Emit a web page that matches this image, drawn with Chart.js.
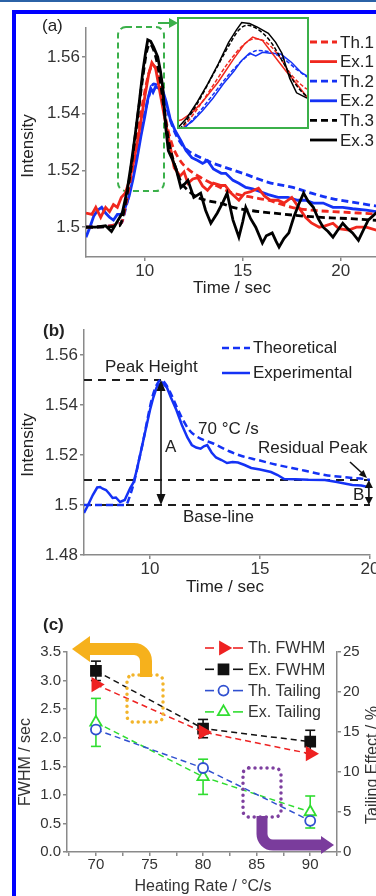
<!DOCTYPE html>
<html>
<head>
<meta charset="utf-8">
<script src="https://cdn.jsdelivr.net/npm/chart.js@4.4.1/dist/chart.umd.min.js"></script>
<style>
html,body{margin:0;padding:0;background:#fff;}
body{width:376px;height:896px;overflow:hidden;position:relative;}
canvas.c{position:absolute;display:block;}
#topline{position:absolute;left:0;top:0;width:376px;height:2px;background:#2b62a6;z-index:5;}
#frame{position:absolute;left:12px;top:10px;width:600px;height:1000px;border-left:4px solid #0000ff;border-top:4px solid #0000ff;pointer-events:none;z-index:10;}
#insetBox{position:absolute;left:177px;top:17px;width:128px;height:108px;border:2px solid #3bb04a;background:#fff;z-index:3;}
</style>
</head>
<body>
<div id="topline"></div>
<canvas id="chartA" class="c" width="400" height="300" style="left:0;top:0;"></canvas>
<div id="insetBox"><canvas id="chartInset" width="128" height="108" style="display:block"></canvas></div>
<canvas id="chartB" class="c" width="400" height="300" style="left:0;top:300px;"></canvas>
<canvas id="chartC" class="c" width="400" height="296" style="left:0;top:600px;"></canvas>
<div id="frame"></div>
<script>
// ================= DATA =================
// Panel (a): time (s) / intensity pairs
const timeTicksA = [10, 15, 20];
const intensityTicksA = [1.5, 1.52, 1.54, 1.56];
const th1Points = [[7,1.5],[8.8,1.5015],[9.0,1.507],[9.3,1.518],[9.6,1.531],[9.9,1.544],[10.2,1.554],[10.4,1.557],[10.6,1.5555],[10.85,1.548],[11.1,1.537],[11.4,1.529],[11.8,1.5235],[12.2,1.5205],[12.85,1.5175],[13.7,1.5145],[14.5,1.512],[15.5,1.5105],[16.3,1.5095],[17.5,1.507],[18.5,1.506],[19.6,1.5055],[20.9,1.505],[22.2,1.5045]];
const ex1Points = [[7.0,1.505],[7.3,1.5045],[7.5,1.507],[7.75,1.5035],[8.0,1.507],[8.2,1.5055],[8.4,1.508],[8.6,1.507],[8.8,1.5105],[9.0,1.512],[9.2,1.516],[9.4,1.522],[9.7,1.533],[10.0,1.546],[10.2,1.554],[10.36,1.558],[10.55,1.556],[10.8,1.5465],[11.0,1.539],[11.2,1.532],[11.5,1.521],[11.8,1.518],[12.0,1.5195],[12.2,1.5155],[12.45,1.517],[12.7,1.5175],[12.95,1.5145],[13.2,1.513],[13.5,1.5155],[13.9,1.5147],[14.1,1.5147],[14.4,1.512],[14.8,1.5095],[15.1,1.512],[15.4,1.5125],[15.8,1.5137],[16.1,1.511],[16.4,1.5095],[16.8,1.5095],[17.1,1.5085],[17.5,1.5105],[17.85,1.507],[18.2,1.5035],[18.5,1.5015],[18.9,1.5],[19.2,1.5005],[19.6,1.5014],[19.9,1.4995],[20.4,1.499],[20.8,1.5],[21.3,1.5],[21.8,1.499],[22.2,1.4995]];
const th2Points = [[7,1.5],[8.8,1.5015],[9.0,1.506],[9.3,1.515],[9.6,1.526],[9.9,1.537],[10.2,1.546],[10.45,1.5505],[10.7,1.5495],[10.95,1.546],[11.2,1.54],[11.5,1.534],[11.85,1.5295],[12.2,1.527],[12.85,1.5245],[13.5,1.5225],[14.13,1.521],[15.0,1.519],[16.3,1.5158],[17.55,1.514],[18.5,1.512],[19.6,1.51],[20.9,1.5085],[22.2,1.507]];
const ex2Points = [[7.0,1.4965],[7.2,1.5],[7.4,1.504],[7.6,1.506],[7.8,1.507],[8.0,1.505],[8.2,1.5035],[8.4,1.5025],[8.6,1.5045],[8.8,1.5045],[9.0,1.507],[9.2,1.511],[9.4,1.517],[9.6,1.524],[9.8,1.532],[10.0,1.539],[10.15,1.545],[10.3,1.549],[10.42,1.5475],[10.55,1.5495],[10.7,1.549],[10.9,1.5485],[11.1,1.544],[11.3,1.538],[11.55,1.534],[11.84,1.5305],[12.1,1.527],[12.4,1.5245],[12.7,1.5235],[12.95,1.5225],[13.2,1.5235],[13.5,1.5205],[13.9,1.519],[14.13,1.519],[14.5,1.5165],[14.8,1.5155],[15.15,1.514],[15.5,1.5135],[15.9,1.5125],[16.3,1.5115],[16.8,1.5105],[17.3,1.5105],[17.8,1.5095],[18.2,1.5095],[18.6,1.5085],[19.1,1.5085],[19.6,1.507],[20.1,1.507],[20.6,1.5065],[21.3,1.506],[21.8,1.5055],[22.2,1.505]];
const th3Points = [[7,1.5],[8.7,1.5005],[9.0,1.508],[9.3,1.521],[9.6,1.537],[9.9,1.553],[10.1,1.562],[10.25,1.5645],[10.45,1.5625],[10.7,1.5555],[10.95,1.5435],[11.2,1.531],[11.5,1.5225],[11.85,1.516],[12.2,1.513],[12.7,1.5105],[13.3,1.5092],[13.9,1.5084],[14.5,1.507],[15.5,1.5058],[16.5,1.505],[17.5,1.5043],[18.5,1.5037],[19.5,1.5033],[20.5,1.503],[21.6,1.5025],[22.2,1.5023]];
const ex3Points = [[7.0,1.5],[7.5,1.5],[8.0,1.5005],[8.3,1.4985],[8.6,1.502],[8.85,1.505],[9.1,1.513],[9.3,1.522],[9.5,1.532],[9.7,1.543],[9.9,1.555],[10.05,1.562],[10.15,1.566],[10.3,1.5655],[10.45,1.5635],[10.66,1.56],[10.8,1.555],[10.92,1.549],[11.07,1.535],[11.2,1.527],[11.4,1.524],[11.6,1.5205],[11.84,1.514],[12.0,1.515],[12.2,1.5165],[12.5,1.5105],[12.85,1.512],[13.1,1.506],[13.37,1.5014],[13.7,1.505],[14.0,1.509],[14.2,1.512],[14.5,1.5025],[14.8,1.4965],[15.0,1.502],[15.15,1.507],[15.4,1.503],[15.66,1.5],[16.0,1.4944],[16.2,1.497],[16.5,1.498],[16.7,1.495],[16.85,1.493],[17.1,1.496],[17.35,1.498],[17.6,1.5035],[17.85,1.508],[18.1,1.512],[18.35,1.509],[18.6,1.507],[18.85,1.503],[19.1,1.5],[19.35,1.4985],[19.6,1.4965],[19.85,1.499],[20.1,1.5014],[20.35,1.4995],[20.6,1.498],[20.9,1.4954],[21.15,1.499],[21.4,1.5025],[21.8,1.505],[22.2,1.506]];

// Panel (b)
const timeTicksB = [10, 15, 20];
const intensityTicksB = [1.48, 1.5, 1.52, 1.54, 1.56];
const theoreticalB = [[7.0,1.5],[8.9,1.5],[9.1,1.504],[9.3,1.51],[9.5,1.518],[9.7,1.526],[9.9,1.535],[10.1,1.543],[10.3,1.548],[10.5,1.55],[10.7,1.5485],[10.95,1.5445],[11.2,1.5395],[11.5,1.534],[11.8,1.5298],[12.2,1.527],[12.9,1.5245],[13.6,1.5215],[14.2,1.5195],[14.9,1.518],[15.7,1.5162],[16.45,1.5148],[17.2,1.5134],[17.95,1.512],[19.0,1.511],[19.9,1.5102],[20.0,1.51]];
const experimentalB = [[7.0,1.4968],[7.14,1.4992],[7.4,1.504],[7.6,1.507],[7.73,1.5072],[7.85,1.5065],[8.0,1.506],[8.15,1.5045],[8.3,1.5028],[8.45,1.503],[8.64,1.5012],[8.85,1.502],[9.1,1.5068],[9.25,1.509],[9.4,1.514],[9.55,1.52],[9.7,1.526],[9.85,1.532],[10.0,1.538],[10.15,1.543],[10.3,1.547],[10.45,1.5485],[10.55,1.549],[10.65,1.548],[10.77,1.547],[10.95,1.543],[11.2,1.538],[11.45,1.532],[11.7,1.527],[11.9,1.524],[12.1,1.523],[12.3,1.5225],[12.45,1.5235],[12.6,1.524],[12.8,1.521],[13.0,1.519],[13.25,1.518],[13.5,1.5168],[13.75,1.5172],[14.0,1.517],[14.3,1.516],[14.6,1.5148],[15.0,1.5142],[15.5,1.5132],[15.8,1.512],[16.1,1.5104],[16.6,1.5103],[17.2,1.5101],[17.95,1.51],[18.5,1.5092],[18.9,1.5085],[19.2,1.508],[19.6,1.5078],[19.9,1.5072],[20.0,1.5075]];
const peakLevelB = 1.55, residualLevelB = 1.51, baseLevelB = 1.5;
const peakTimeB = 10.5, residualTimeB = 19.95, endTimeB = 20;

// Panel (c)
const heatingRates = [70, 80, 90];
const rateTicksC = [70, 75, 80, 85, 90];
const rateMinorTicksC = [67.5, 72.5, 77.5, 82.5, 87.5, 92.5];
const fwhmTicksC = [0, 0.5, 1.0, 1.5, 2.0, 2.5, 3.0, 3.5];
const tailTicksC = [0, 5, 10, 15, 20, 25];
const tailMinorTicksC = [2.5, 7.5, 12.5, 17.5, 22.5];
const thFwhm = [2.93, 2.10, 1.72];
const exFwhm = [3.17, 2.16, 1.93];
const exFwhmErr = [0.17, 0.16, 0.2];
const thTail = [15.3, 10.5, 3.9];
const exTail = [16.2, 9.4, 5.0];
const exTailErr = [3.0, 2.2, 2.0];

// ================= STYLE / HELPERS =================
const FONT = '"Liberation Sans", Arial, Helvetica, sans-serif';
const TICK = '#333', TXT = '#222', AXIS = '#8a8a8a';
const RED = '#f0281e', BLUE = '#1432f5', BLACK = '#000000', GREEN = '#3bb04a';
const RED_C = '#ee2222', BLACK_C = '#111111', BLUE_C = '#3050d0', GREEN_C = '#30dd30';

function pts(a){ return a.map(p => ({x:p[0], y:p[1]})); }
function txt(ctx, s, x, y, o){
  o = o || {};
  ctx.save();
  ctx.font = (o.bold ? 'bold ' : '') + (o.size || 17) + 'px ' + FONT;
  ctx.fillStyle = o.color || TXT;
  ctx.textAlign = o.align || 'left';
  ctx.textBaseline = 'middle';
  if (o.rot) { ctx.translate(x, y); ctx.rotate(o.rot); ctx.fillText(s, 0, 0); }
  else ctx.fillText(s, x, y);
  ctx.restore();
}
function seg(ctx, x1, y1, x2, y2, color, lw, dash){
  ctx.save(); ctx.beginPath(); ctx.strokeStyle = color; ctx.lineWidth = lw;
  ctx.setLineDash(dash || []); ctx.moveTo(x1, y1); ctx.lineTo(x2, y2); ctx.stroke(); ctx.restore();
}
function head(ctx, x, y, ang, len, wid, color){
  ctx.save(); ctx.translate(x, y); ctx.rotate(ang); ctx.beginPath();
  ctx.moveTo(0, 0); ctx.lineTo(-len, -wid/2); ctx.lineTo(-len, wid/2); ctx.closePath();
  ctx.fillStyle = color; ctx.fill(); ctx.restore();
}
function rrPath(ctx, x, y, w, h, r){
  ctx.beginPath(); ctx.moveTo(x + r, y); ctx.lineTo(x + w - r, y); ctx.arcTo(x + w, y, x + w, y + r, r);
  ctx.lineTo(x + w, y + h - r); ctx.arcTo(x + w, y + h, x + w - r, y + h, r);
  ctx.lineTo(x + r, y + h); ctx.arcTo(x, y + h, x, y + h - r, r);
  ctx.lineTo(x, y + r); ctx.arcTo(x, y, x + r, y, r); ctx.closePath();
}
function marker(ctx, kind, x, y, r, stroke, fill, lw){
  ctx.save(); ctx.setLineDash([]); ctx.beginPath();
  if (kind === 'triR') {
    for (let k = 0; k < 3; k++) { const a = Math.PI/2 + k*2*Math.PI/3; const px = x + Math.sin(a)*r, py = y - Math.cos(a)*r; k ? ctx.lineTo(px, py) : ctx.moveTo(px, py); }
    ctx.closePath();
  } else if (kind === 'tri') {
    for (let k = 0; k < 3; k++) { const a = k*2*Math.PI/3; const px = x + Math.sin(a)*r, py = y - Math.cos(a)*r; k ? ctx.lineTo(px, py) : ctx.moveTo(px, py); }
    ctx.closePath();
  } else if (kind === 'rect') {
    const s = r * Math.SQRT1_2; ctx.rect(x - s, y - s, 2*s, 2*s);
  } else { ctx.arc(x, y, r, 0, Math.PI*2); }
  if (fill) { ctx.fillStyle = fill; ctx.fill(); }
  ctx.lineWidth = lw; ctx.strokeStyle = stroke; ctx.stroke(); ctx.restore();
}
function gridOpt(){ return { display:true, drawOnChartArea:false, drawTicks:true, tickLength:4, color:AXIS, lineWidth:1.5 }; }
function borderOpt(){ return { display:true, color:AXIS, width:1.5 }; }
function setTicks(arr){ return s => { s.ticks = arr.map(v => ({value:v})); }; }

// ================= PANEL (a) =================
const seriesA = [
  {label:'Th.1', points:th1Points, color:RED,   dashed:true,  order:3},
  {label:'Ex.1', points:ex1Points, color:RED,   dashed:false, order:2},
  {label:'Th.2', points:th2Points, color:BLUE,  dashed:true,  order:5},
  {label:'Ex.2', points:ex2Points, color:BLUE,  dashed:false, order:4},
  {label:'Th.3', points:th3Points, color:BLACK, dashed:true,  order:1},
  {label:'Ex.3', points:ex3Points, color:BLACK, dashed:false, order:0}
];
function dsA(lw, dash){
  return seriesA.map(s => ({
    label:s.label, data:pts(s.points), borderColor:s.color, backgroundColor:s.color,
    borderWidth:lw, borderDash:s.dashed ? dash : [], pointRadius:0, fill:false, order:s.order,
    cubicInterpolationMode: s.dashed ? 'monotone' : 'default', tension:0
  }));
}
const decoA = {
  id:'decoA',
  beforeDatasetsDraw(chart){
    const ctx = chart.ctx;
    ctx.save(); ctx.strokeStyle = GREEN; ctx.lineWidth = 2; ctx.setLineDash([6,4]);
    rrPath(ctx, 118, 27, 46, 164, 8); ctx.stroke(); ctx.restore();
  },
  afterDraw(chart){
    const ctx = chart.ctx;
    seg(ctx, 158, 23, 170, 23, GREEN, 2);
    head(ctx, 178, 23, 0, 9, 10, GREEN);
    seriesA.forEach((s, i) => {
      const y = 42 + i * 19.6;
      seg(ctx, 310, y, 337, y, s.color, 2.8, s.dashed ? [7,4] : []);
      txt(ctx, s.label, 340, y + 1, {size:17});
    });
    txt(ctx, '(a)', 42, 26, {size:17});
    txt(ctx, 'Intensity', 28, 146, {size:17, align:'center', rot:-Math.PI/2});
    txt(ctx, 'Time / sec', 232, 288, {size:17, align:'center'});
  }
};
new Chart(document.getElementById('chartA'), {
  type:'line',
  data:{datasets: dsA(2.8, [7,4])},
  options:{
    responsive:false, animation:false, events:[],
    layout:{padding:{left:0, right:20, top:28, bottom:0}},
    plugins:{legend:{display:false}, tooltip:{enabled:false}},
    scales:{
      x:{type:'linear', min:7, max:22, afterBuildTicks:setTicks(timeTicksA), afterFit:s=>{s.height=43;},
         ticks:{font:{family:FONT,size:17}, color:TICK, padding:0, maxRotation:0, autoSkip:false},
         grid:gridOpt(), border:borderOpt()},
      y:{type:'linear', min:1.4895, max:1.5702, afterBuildTicks:setTicks(intensityTicksA), afterFit:s=>{s.width=86;},
         ticks:{font:{family:FONT,size:17}, color:TICK, padding:2, callback:v=>String(v)},
         grid:gridOpt(), border:borderOpt()}
    }
  },
  plugins:[decoA]
});

// inset (zoom of the peak region)
new Chart(document.getElementById('chartInset'), {
  type:'line',
  data:{datasets: dsA(1.5, [4,2])},
  options:{
    responsive:false, animation:false, events:[],
    layout:{padding:0},
    plugins:{legend:{display:false}, tooltip:{enabled:false}},
    scales:{ x:{type:'linear', display:false, min:8.95, max:11.4}, y:{type:'linear', display:false, min:1.508, max:1.568} }
  }
});

// ================= PANEL (b) =================
const decoB = {
  id:'decoB',
  beforeDatasetsDraw(chart){
    const ctx = chart.ctx, xs = chart.scales.x, ys = chart.scales.y;
    const L = chart.chartArea.left;
    const dash = [8,6], c = '#1e1e1e';
    seg(ctx, L, ys.getPixelForValue(peakLevelB), xs.getPixelForValue(peakTimeB), ys.getPixelForValue(peakLevelB), c, 2, dash);
    seg(ctx, L, ys.getPixelForValue(residualLevelB), xs.getPixelForValue(endTimeB), ys.getPixelForValue(residualLevelB), c, 2, dash);
    seg(ctx, L, ys.getPixelForValue(baseLevelB), xs.getPixelForValue(endTimeB), ys.getPixelForValue(baseLevelB), c, 2, dash);
  },
  afterDraw(chart){
    const ctx = chart.ctx, xs = chart.scales.x, ys = chart.scales.y;
    const ax = xs.getPixelForValue(peakTimeB), aTop = ys.getPixelForValue(peakLevelB), aBot = ys.getPixelForValue(baseLevelB);
    seg(ctx, ax, aTop + 6, ax, aBot - 6, '#111', 1.6);
    head(ctx, ax, aTop, -Math.PI/2, 11, 9, '#111');
    head(ctx, ax, aBot, Math.PI/2, 11, 9, '#111');
    const bx = xs.getPixelForValue(residualTimeB), bTop = ys.getPixelForValue(residualLevelB), bBot = ys.getPixelForValue(baseLevelB);
    seg(ctx, bx, bTop + 5, bx, bBot - 5, '#111', 1.6);
    head(ctx, bx, bTop, -Math.PI/2, 8, 8, '#111');
    head(ctx, bx, bBot, Math.PI/2, 8, 8, '#111');
    seg(ctx, 350, 162, 362, 173, '#111', 1.6);
    head(ctx, 367, 178, Math.atan2(16, 17), 8, 7, '#111');
    seg(ctx, 222, 48, 250, 48, BLUE, 2.5, [7,4]);
    txt(ctx, 'Theoretical', 253, 48);
    seg(ctx, 222, 73, 250, 73, BLUE, 2.5);
    txt(ctx, 'Experimental', 253, 73);
    txt(ctx, '(b)', 43, 31, {bold:true});
    txt(ctx, 'Peak Height', 105, 67);
    txt(ctx, '70 \u00B0C /s', 198, 129);
    txt(ctx, 'Residual Peak', 258, 148);
    txt(ctx, 'A', 165, 147);
    txt(ctx, 'Base-line', 183, 217);
    txt(ctx, 'B', 353, 195);
    txt(ctx, 'Intensity', 28, 145, {align:'center', rot:-Math.PI/2});
    txt(ctx, 'Time / sec', 225, 287, {align:'center'});
  }
};
new Chart(document.getElementById('chartB'), {
  type:'line',
  data:{datasets:[
    {label:'Theoretical', data:pts(theoreticalB), borderColor:BLUE, borderWidth:2.5, borderDash:[7,4], pointRadius:0, fill:false, cubicInterpolationMode:'monotone', order:1},
    {label:'Experimental', data:pts(experimentalB), borderColor:BLUE, borderWidth:2.5, pointRadius:0, fill:false, tension:0, order:0}
  ]},
  options:{
    responsive:false, animation:false, events:[],
    layout:{padding:{left:0, right:30, top:30, bottom:0}},
    plugins:{legend:{display:false}, tooltip:{enabled:false}},
    scales:{
      x:{type:'linear', min:7, max:20, afterBuildTicks:setTicks(timeTicksB), afterFit:s=>{s.height=45;},
         ticks:{font:{family:FONT,size:17}, color:TICK, padding:0, maxRotation:0, autoSkip:false},
         grid:gridOpt(), border:borderOpt()},
      y:{type:'linear', min:1.48, max:1.57, afterBuildTicks:setTicks(intensityTicksB), afterFit:s=>{s.width=84;},
         ticks:{font:{family:FONT,size:17}, color:TICK, padding:2, callback:v=>String(v)},
         grid:gridOpt(), border:borderOpt()}
    }
  },
  plugins:[decoB]
});

// ================= PANEL (c) =================
const seriesC = [
  {label:'Th. FWHM',    values:thFwhm, axis:'y',  color:RED_C,   kind:'triR', r:7,   fill:RED_C},
  {label:'Ex. FWHM',    values:exFwhm, axis:'y',  color:BLACK_C, kind:'rect', r:7,   fill:BLACK_C},
  {label:'Th. Tailing', values:thTail, axis:'y2', color:BLUE_C,  kind:'circle', r:5, fill:null},
  {label:'Ex. Tailing', values:exTail, axis:'y2', color:GREEN_C, kind:'tri', r:6.5,  fill:null}
];
function errBars(ctx, xs, ys, vals, errs, color){
  heatingRates.forEach((x, i) => {
    const px = xs.getPixelForValue(x);
    const t = ys.getPixelForValue(vals[i] + errs[i]), b = ys.getPixelForValue(vals[i] - errs[i]);
    seg(ctx, px, t, px, b, color, 1.6);
    seg(ctx, px - 5, t, px + 5, t, color, 1.6);
    seg(ctx, px - 5, b, px + 5, b, color, 1.6);
  });
}
function dottedRect(ctx, x, y, w, h, color){
  ctx.save(); ctx.strokeStyle = color; ctx.lineWidth = 3.5; ctx.lineCap = 'round';
  ctx.setLineDash([0.01, 6]); rrPath(ctx, x, y, w, h, 6); ctx.stroke(); ctx.restore();
}
const decoC = {
  id:'decoC',
  beforeDatasetsDraw(chart){
    const ctx = chart.ctx, xs = chart.scales.x;
    errBars(ctx, xs, chart.scales.y, exFwhm, exFwhmErr, BLACK_C);
    errBars(ctx, xs, chart.scales.y2, exTail, exTailErr, GREEN_C);
  },
  afterDraw(chart){
    const ctx = chart.ctx;
    dottedRect(ctx, 127, 75, 36, 47, '#f2b42a');
    ctx.save(); ctx.strokeStyle = '#f6b11c'; ctx.lineWidth = 12; ctx.lineJoin = 'round';
    ctx.beginPath(); ctx.moveTo(146, 77); ctx.lineTo(146, 61); ctx.arcTo(146, 49, 134, 49, 12); ctx.lineTo(88, 49); ctx.stroke(); ctx.restore();
    head(ctx, 72, 49, Math.PI, 18, 26, '#f6b11c');
    dottedRect(ctx, 243, 168, 38, 49, '#7d3f9f');
    ctx.save(); ctx.strokeStyle = '#7a3c9c'; ctx.lineWidth = 11; ctx.lineJoin = 'round';
    ctx.beginPath(); ctx.moveTo(262, 216); ctx.lineTo(262, 234); ctx.arcTo(262, 245, 273, 245, 11); ctx.lineTo(322, 245); ctx.stroke(); ctx.restore();
    head(ctx, 334, 245, 0, 13, 18, '#7a3c9c');
    seriesC.forEach((s, i) => {
      const y = 48 + i * 21.3;
      seg(ctx, 205, y, 214, y, s.color, 1.6);
      seg(ctx, 233, y, 243, y, s.color, 1.6);
      marker(ctx, s.kind, 223.5, y, s.r, s.color, s.fill || '#fff', 1.8);
      txt(ctx, s.label, 248, y + 1, {size:16, color:'#333'});
    });
    txt(ctx, '(c)', 43, 25, {bold:true});
    txt(ctx, 'FWHM / sec', 26, 162, {size:16, align:'center', rot:-Math.PI/2, color:'#333'});
    txt(ctx, 'Tailing Effect / %', 373, 165, {size:16, align:'center', rot:-Math.PI/2, color:'#333'});
    txt(ctx, 'Heating Rate / \u00B0C/s', 203, 287, {size:16, align:'center', color:'#333'});
  }
};
function dsC(s){
  const pr = {triR:'triangle', tri:'triangle', rect:'rect', circle:'circle'}[s.kind];
  return {
    label:s.label, yAxisID:s.axis, data:heatingRates.map((x, i) => ({x, y:s.values[i]})),
    borderColor:s.color, borderWidth:1.5, borderDash:[6,4], fill:false, tension:0,
    pointStyle:pr, pointRotation:s.kind === 'triR' ? 90 : 0, pointRadius:s.r,
    pointBackgroundColor:s.fill || '#ffffff', pointBorderColor:s.color, pointBorderWidth:1.8
  };
}
new Chart(document.getElementById('chartC'), {
  type:'line',
  data:{datasets: seriesC.map(dsC)},
  options:{
    responsive:false, animation:false, events:[],
    layout:{padding:{left:0, right:24, top:52, bottom:0}},
    plugins:{legend:{display:false}, tooltip:{enabled:false}},
    scales:{
      x:{type:'linear', min:67.3, max:92.5,
         afterBuildTicks:s=>{ s.ticks = rateTicksC.concat(rateMinorTicksC).sort((a,b)=>a-b).map(v=>({value:v})); },
         afterFit:s=>{s.height=44;},
         ticks:{font:{family:FONT,size:15}, color:TICK, padding:0, maxRotation:0, autoSkip:false,
                callback:v=> rateTicksC.includes(v) ? String(v) : ''},
         grid:gridOpt(), border:borderOpt()},
      y:{type:'linear', position:'left', min:0, max:3.5, afterBuildTicks:setTicks(fwhmTicksC), afterFit:s=>{s.width=67;},
         ticks:{font:{family:FONT,size:15}, color:TICK, padding:2, callback:v=>v.toFixed(1)},
         grid:gridOpt(), border:borderOpt()},
      y2:{type:'linear', position:'right', min:0, max:25,
         afterBuildTicks:s=>{ s.ticks = tailTicksC.concat(tailMinorTicksC).sort((a,b)=>a-b).map(v=>({value:v})); },
         afterFit:s=>{s.width=39;},
         ticks:{font:{family:FONT,size:15}, color:TICK, padding:2, callback:v=> tailTicksC.includes(v) ? String(v) : ''},
         grid:gridOpt(), border:borderOpt()}
    }
  },
  plugins:[decoC]
});
</script>
</body>
</html>
